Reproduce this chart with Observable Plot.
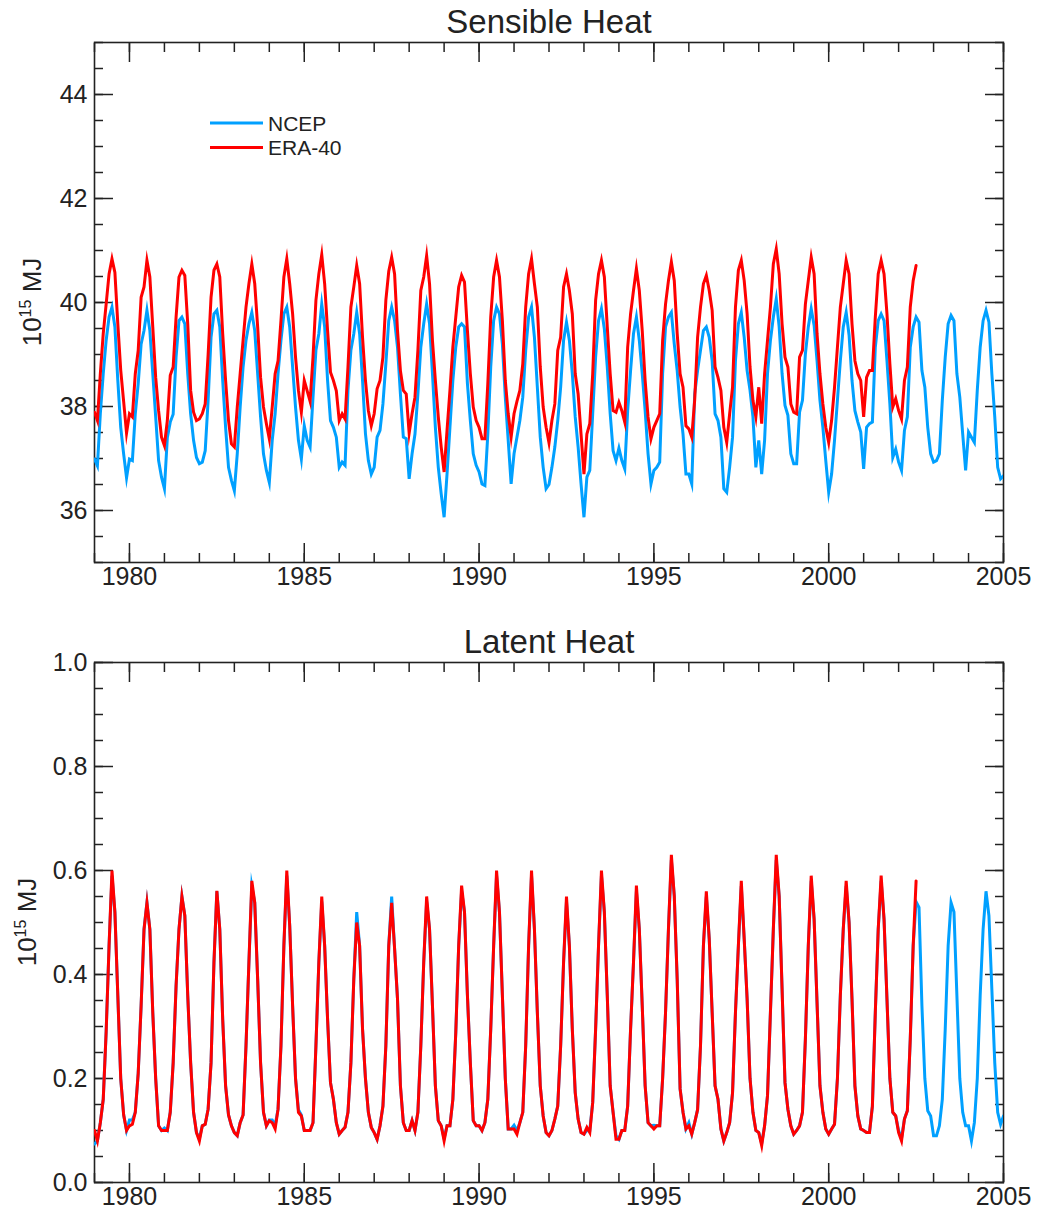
<!DOCTYPE html>
<html>
<head>
<meta charset="utf-8">
<script src="https://cdn.jsdelivr.net/npm/d3@7"></script>
<script src="https://cdn.jsdelivr.net/npm/@observablehq/plot@0.6"></script>
<style>
  html, body { margin: 0; padding: 0; background: #fff; }
  #chart { width: 1038px; }
  #chart svg { display: block; }
</style>
</head>
<body>
<div id="chart"></div>
<script>
// ---- Data (monthly, starting January 1979) ----
const startYear = 1979;
const seriesNames = ["NCEP", "ERA-40"];
const seriesColors = ["#00A0FF", "#FF0000"];

const ncepSensible = [
  36.99, 36.86, 37.86, 38.63, 39.27, 39.72, 39.91, 39.53, 38.50, 37.60, 37.09, 36.63,
  36.99, 36.96, 37.86, 38.44, 39.20, 39.46, 39.85, 39.46, 38.63, 37.80, 36.96, 36.64,
  36.42, 37.40, 37.70, 37.85, 38.95, 39.65, 39.72, 39.59, 38.63, 37.86, 37.35, 37.02,
  36.90, 36.93, 37.15, 38.12, 39.33, 39.78, 39.85, 39.53, 38.50, 37.60, 36.83, 36.58,
  36.38, 37.09, 37.99, 38.76, 39.27, 39.59, 39.81, 39.46, 38.63, 37.80, 37.09, 36.77,
  36.54, 37.35, 37.86, 38.63, 39.27, 39.78, 39.91, 39.53, 38.76, 37.99, 37.35, 36.99,
  37.63, 37.35, 37.22, 38.18, 39.08, 39.40, 39.97, 39.53, 38.50, 37.73, 37.60, 37.41,
  36.83, 36.93, 36.87, 38.31, 39.08, 39.40, 39.81, 39.40, 38.50, 37.48, 36.96, 36.70,
  36.83, 37.41, 37.54, 38.05, 38.82, 39.65, 39.91, 39.65, 39.14, 38.24, 37.41, 37.38,
  36.61, 37.09, 37.47, 38.24, 39.14, 39.59, 39.97, 39.59, 38.63, 37.60, 36.83, 36.32,
  35.87, 36.70, 37.60, 38.50, 39.14, 39.53, 39.59, 39.53, 38.44, 37.73, 37.09, 36.87,
  36.74, 36.51, 36.48, 37.47, 38.76, 39.65, 39.91, 39.78, 39.20, 38.18, 37.35, 36.51,
  37.09, 37.41, 37.73, 38.18, 39.08, 39.72, 39.91, 39.33, 38.37, 37.41, 36.83, 36.42,
  36.50, 36.83, 37.22, 37.73, 38.37, 39.27, 39.62, 39.27, 38.63, 37.80, 37.22, 36.51,
  35.87, 36.64, 36.77, 37.86, 38.95, 39.65, 39.88, 39.49, 38.76, 37.86, 37.15, 36.96,
  37.20, 36.96, 36.80, 37.92, 38.69, 39.40, 39.72, 39.27, 38.63, 37.92, 37.09, 36.51,
  36.77, 36.83, 36.93, 38.63, 39.53, 39.72, 39.81, 39.20, 38.69, 37.99, 37.47, 36.70,
  36.70, 36.51, 38.24, 38.69, 39.08, 39.46, 39.53, 39.33, 38.88, 37.86, 37.73, 37.41,
  36.42, 36.35, 36.83, 37.41, 38.88, 39.59, 39.81, 39.33, 38.69, 38.31, 37.80, 36.83,
  37.35, 36.70, 37.35, 38.63, 39.27, 39.72, 40.07, 39.53, 38.63, 38.02, 37.83, 37.09,
  36.90, 36.90, 37.89, 38.12, 39.01, 39.53, 39.88, 39.56, 38.88, 38.12, 37.60, 36.96,
  36.35, 36.70, 37.35, 38.12, 38.88, 39.53, 39.81, 39.37, 38.50, 37.92, 37.70, 37.51,
  36.80, 37.60, 37.67, 37.70, 39.14, 39.65, 39.78, 39.65, 38.88, 38.05, 37.02, 37.18,
  36.93, 36.77, 37.54, 37.80, 39.14, 39.53, 39.72, 39.62, 38.69, 38.37, 37.60, 37.09,
  36.93, 36.96, 37.09, 38.12, 38.95, 39.59, 39.75, 39.65, 38.63, 38.18, 37.47, 36.77,
  37.51, 37.41, 37.31, 38.31, 39.14, 39.65, 39.85, 39.62, 38.63, 37.80, 36.83, 36.61,
  36.67
];

const eraSensible = [
  37.89, 37.73, 38.63, 39.40, 39.97, 40.55, 40.84, 40.58, 39.59, 38.70, 38.10, 37.49,
  37.86, 37.80, 38.63, 39.08, 40.10, 40.30, 40.81, 40.49, 39.53, 38.56, 37.92, 37.41,
  37.25, 37.73, 38.60, 38.76, 39.72, 40.49, 40.62, 40.52, 39.59, 38.31, 37.89, 37.73,
  37.76, 37.86, 38.05, 39.00, 40.10, 40.62, 40.74, 40.49, 39.40, 38.50, 37.73, 37.28,
  37.22, 37.99, 38.63, 39.27, 39.91, 40.36, 40.74, 40.36, 39.53, 38.56, 37.99, 37.67,
  37.38, 37.99, 38.63, 38.88, 39.65, 40.49, 40.84, 40.36, 39.78, 38.95, 38.31, 37.89,
  38.50, 38.30, 38.10, 38.95, 40.04, 40.55, 40.92, 40.36, 39.46, 38.66, 38.50, 38.30,
  37.73, 37.86, 37.76, 38.76, 39.91, 40.30, 40.71, 40.36, 39.33, 38.50, 37.92, 37.63,
  37.86, 38.34, 38.50, 38.95, 40.04, 40.60, 40.87, 40.55, 39.46, 38.69, 38.31, 38.24,
  37.49, 37.86, 38.18, 39.08, 40.23, 40.49, 40.90, 40.36, 39.27, 38.50, 37.80, 37.22,
  36.74, 37.54, 38.31, 39.14, 39.72, 40.30, 40.52, 40.39, 39.46, 38.63, 37.99, 37.73,
  37.60, 37.38, 37.38, 38.44, 39.72, 40.49, 40.81, 40.49, 39.65, 38.50, 37.86, 37.41,
  37.86, 38.10, 38.31, 38.82, 39.91, 40.55, 40.84, 40.36, 39.91, 38.76, 37.99, 37.60,
  37.30, 37.73, 38.05, 39.08, 39.33, 40.30, 40.55, 40.23, 39.78, 38.63, 38.24, 37.47,
  36.70, 37.47, 37.67, 38.63, 40.04, 40.55, 40.81, 40.49, 39.53, 38.63, 37.92, 37.89,
  38.08, 37.92, 37.70, 39.14, 39.78, 40.23, 40.65, 40.23, 39.46, 38.50, 37.80, 37.38,
  37.60, 37.73, 37.86, 39.27, 39.97, 40.42, 40.78, 40.42, 39.40, 38.63, 38.37, 37.63,
  37.57, 37.41, 38.12, 39.33, 39.91, 40.36, 40.52, 40.23, 39.85, 38.76, 38.56, 38.31,
  37.60, 37.31, 37.86, 38.37, 39.91, 40.62, 40.81, 40.42, 39.78, 38.76, 38.12, 37.80,
  38.37, 37.67, 38.63, 39.27, 39.91, 40.74, 41.03, 40.55, 39.59, 38.95, 38.76, 38.05,
  37.89, 37.86, 38.95, 39.08, 39.97, 40.42, 40.87, 40.55, 39.40, 38.63, 38.05, 37.60,
  37.31, 37.73, 38.37, 39.14, 39.91, 40.36, 40.81, 40.55, 39.59, 38.88, 38.63, 38.50,
  37.80, 38.56, 38.69, 38.69, 39.72, 40.55, 40.81, 40.55, 39.78, 38.82, 37.99, 38.15,
  37.92, 37.76, 38.50, 38.76, 39.91, 40.42, 40.71
];

const ncepLatent = [
  0.074, 0.080, 0.115, 0.160, 0.290, 0.455, 0.590, 0.520, 0.360, 0.200, 0.130, 0.100,
  0.120, 0.120, 0.135, 0.210, 0.340, 0.487, 0.538, 0.487, 0.327, 0.200, 0.109, 0.100,
  0.105, 0.100, 0.135, 0.230, 0.378, 0.487, 0.550, 0.513, 0.360, 0.230, 0.135, 0.096,
  0.085, 0.109, 0.112, 0.141, 0.230, 0.423, 0.560, 0.487, 0.314, 0.186, 0.130, 0.109,
  0.096, 0.090, 0.115, 0.130, 0.263, 0.423, 0.570, 0.538, 0.391, 0.230, 0.135, 0.109,
  0.120, 0.120, 0.110, 0.141, 0.263, 0.455, 0.590, 0.494, 0.340, 0.200, 0.140, 0.130,
  0.100, 0.100, 0.100, 0.115, 0.263, 0.423, 0.540, 0.455, 0.314, 0.192, 0.160, 0.115,
  0.093, 0.100, 0.106, 0.135, 0.230, 0.391, 0.520, 0.455, 0.295, 0.200, 0.135, 0.106,
  0.096, 0.083, 0.109, 0.147, 0.263, 0.455, 0.550, 0.450, 0.353, 0.186, 0.115, 0.100,
  0.100, 0.119, 0.100, 0.135, 0.263, 0.423, 0.540, 0.487, 0.340, 0.186, 0.119, 0.109,
  0.085, 0.109, 0.109, 0.160, 0.288, 0.455, 0.560, 0.520, 0.360, 0.230, 0.119, 0.109,
  0.109, 0.100, 0.115, 0.160, 0.295, 0.455, 0.590, 0.520, 0.360, 0.200, 0.103, 0.103,
  0.110, 0.100, 0.115, 0.135, 0.263, 0.455, 0.590, 0.487, 0.327, 0.186, 0.128, 0.096,
  0.090, 0.100, 0.122, 0.147, 0.263, 0.423, 0.540, 0.455, 0.295, 0.173, 0.122, 0.096,
  0.093, 0.100, 0.100, 0.154, 0.295, 0.455, 0.590, 0.520, 0.360, 0.186, 0.135, 0.090,
  0.083, 0.100, 0.100, 0.147, 0.295, 0.423, 0.560, 0.487, 0.340, 0.186, 0.115, 0.109,
  0.110, 0.109, 0.109, 0.200, 0.327, 0.487, 0.620, 0.551, 0.391, 0.180, 0.135, 0.103,
  0.115, 0.093, 0.115, 0.140, 0.263, 0.455, 0.550, 0.468, 0.327, 0.186, 0.160, 0.103,
  0.080, 0.096, 0.115, 0.173, 0.327, 0.455, 0.570, 0.468, 0.353, 0.200, 0.135, 0.100,
  0.096, 0.075, 0.109, 0.167, 0.327, 0.487, 0.620, 0.551, 0.372, 0.192, 0.141, 0.109,
  0.093, 0.100, 0.109, 0.135, 0.276, 0.455, 0.580, 0.506, 0.346, 0.186, 0.135, 0.103,
  0.093, 0.103, 0.112, 0.200, 0.360, 0.487, 0.570, 0.500, 0.353, 0.186, 0.128, 0.103,
  0.100, 0.096, 0.096, 0.147, 0.327, 0.487, 0.580, 0.506, 0.353, 0.200, 0.135, 0.128,
  0.100, 0.085, 0.122, 0.138, 0.276, 0.455, 0.540, 0.529, 0.340, 0.200, 0.138, 0.128,
  0.090, 0.090, 0.109, 0.160, 0.295, 0.455, 0.538, 0.520, 0.360, 0.200, 0.135, 0.109,
  0.109, 0.080, 0.115, 0.200, 0.360, 0.487, 0.560, 0.513, 0.372, 0.230, 0.135, 0.112,
  0.128
];

const eraLatent = [
  0.100, 0.080, 0.115, 0.160, 0.290, 0.455, 0.600, 0.520, 0.360, 0.200, 0.130, 0.100,
  0.109, 0.112, 0.135, 0.210, 0.340, 0.487, 0.538, 0.487, 0.327, 0.200, 0.109, 0.100,
  0.100, 0.100, 0.135, 0.230, 0.378, 0.487, 0.550, 0.513, 0.360, 0.230, 0.135, 0.096,
  0.080, 0.109, 0.112, 0.141, 0.230, 0.423, 0.561, 0.487, 0.314, 0.186, 0.130, 0.109,
  0.096, 0.090, 0.115, 0.130, 0.263, 0.423, 0.580, 0.538, 0.391, 0.230, 0.135, 0.109,
  0.119, 0.115, 0.103, 0.141, 0.263, 0.455, 0.600, 0.494, 0.340, 0.200, 0.135, 0.128,
  0.100, 0.100, 0.100, 0.115, 0.263, 0.423, 0.550, 0.455, 0.314, 0.192, 0.160, 0.115,
  0.093, 0.100, 0.106, 0.135, 0.230, 0.391, 0.500, 0.455, 0.295, 0.200, 0.135, 0.106,
  0.096, 0.083, 0.109, 0.147, 0.263, 0.455, 0.538, 0.450, 0.353, 0.186, 0.115, 0.100,
  0.100, 0.119, 0.100, 0.135, 0.263, 0.423, 0.550, 0.487, 0.340, 0.186, 0.119, 0.109,
  0.080, 0.109, 0.109, 0.160, 0.288, 0.455, 0.571, 0.520, 0.360, 0.230, 0.119, 0.109,
  0.109, 0.100, 0.115, 0.160, 0.295, 0.455, 0.600, 0.520, 0.360, 0.200, 0.103, 0.103,
  0.103, 0.093, 0.115, 0.135, 0.263, 0.455, 0.600, 0.487, 0.327, 0.186, 0.128, 0.096,
  0.090, 0.100, 0.122, 0.147, 0.263, 0.423, 0.550, 0.455, 0.295, 0.173, 0.122, 0.096,
  0.093, 0.106, 0.096, 0.154, 0.295, 0.455, 0.600, 0.520, 0.360, 0.186, 0.135, 0.083,
  0.083, 0.100, 0.100, 0.147, 0.295, 0.423, 0.571, 0.487, 0.340, 0.186, 0.115, 0.109,
  0.103, 0.109, 0.109, 0.200, 0.327, 0.487, 0.630, 0.551, 0.391, 0.180, 0.135, 0.103,
  0.109, 0.093, 0.115, 0.140, 0.263, 0.455, 0.560, 0.468, 0.327, 0.186, 0.160, 0.103,
  0.080, 0.096, 0.115, 0.173, 0.327, 0.455, 0.580, 0.468, 0.353, 0.200, 0.135, 0.100,
  0.096, 0.071, 0.109, 0.167, 0.327, 0.487, 0.630, 0.551, 0.372, 0.192, 0.141, 0.109,
  0.093, 0.100, 0.109, 0.135, 0.276, 0.455, 0.590, 0.506, 0.346, 0.186, 0.135, 0.103,
  0.093, 0.103, 0.112, 0.200, 0.360, 0.487, 0.580, 0.500, 0.353, 0.186, 0.128, 0.103,
  0.100, 0.096, 0.096, 0.147, 0.327, 0.487, 0.590, 0.506, 0.353, 0.200, 0.135, 0.128,
  0.096, 0.080, 0.122, 0.138, 0.276, 0.455, 0.580
];

// Axis tick values
const xDomain = [1979, 2005];
const xMajorTicks = [1980, 1985, 1990, 1995, 2000, 2005];
const xMinorTicks = d3.range(1979, 2006);
const sensibleDomain = [35, 45];
const sensibleMajorTicks = [36, 38, 40, 42, 44];
const sensibleMinorTicks = d3.range(35, 45.01, 0.5);
const latentDomain = [0, 1];
const latentMajorTicks = [0, 0.2, 0.4, 0.6, 0.8, 1.0];
const latentMinorTicks = d3.range(0, 1.001, 0.05);

const titles = ["Sensible Heat", "Latent Heat"];
// -------------------------------------------------

const FONT = "'Liberation Sans', Arial, Helvetica, sans-serif";
const toPoints = (arr) => arr.map((v, i) => ({t: startYear + i / 12, v}));

function panel({ncep, era, yDomain, yMajor, yMinor, yFormat, title, height, marginTop, marginBottom, legend, labelX}) {
  const ink = "#222";
  const noLabel = () => "";
  const plot = Plot.plot({
    width: 1038,
    height,
    marginTop,
    marginBottom,
    marginLeft: 94,
    marginRight: 35,
    x: {domain: xDomain},
    y: {domain: yDomain},
    style: {fontFamily: FONT, fontSize: "25px", color: ink, background: "#fff", overflow: "visible"},
    marks: [
      Plot.axisY({anchor: "left", ticks: yMajor, tickSize: -19, tickPadding: 26, tickFormat: yFormat, label: null, strokeWidth: 1.5}),
      Plot.axisY({anchor: "left", ticks: yMinor, tickSize: -9, tickFormat: noLabel, label: null, strokeWidth: 1.5}),
      Plot.axisY({anchor: "right", ticks: yMajor, tickSize: -19, tickFormat: noLabel, label: null, strokeWidth: 1.5}),
      Plot.axisY({anchor: "right", ticks: yMinor, tickSize: -9, tickFormat: noLabel, label: null, strokeWidth: 1.5}),
      Plot.axisX({anchor: "bottom", ticks: xMajorTicks, tickSize: -19, tickPadding: 24, tickFormat: d3.format("d"), label: null, strokeWidth: 1.5}),
      Plot.axisX({anchor: "bottom", ticks: xMinorTicks, tickSize: -9, tickFormat: noLabel, label: null, strokeWidth: 1.5}),
      Plot.axisX({anchor: "top", ticks: xMajorTicks, tickSize: -19, tickFormat: noLabel, label: null, strokeWidth: 1.5}),
      Plot.axisX({anchor: "top", ticks: xMinorTicks, tickSize: -9, tickFormat: noLabel, label: null, strokeWidth: 1.5}),
      Plot.frame({stroke: ink, strokeWidth: 1.6}),
      Plot.line(toPoints(ncep), {x: "t", y: "v", stroke: seriesColors[0], strokeWidth: 3, strokeLinejoin: "miter", strokeMiterlimit: 10, clip: true}),
      Plot.line(toPoints(era), {x: "t", y: "v", stroke: seriesColors[1], strokeWidth: 3, strokeLinejoin: "miter", strokeMiterlimit: 10, clip: true}),
      Plot.text([title], {text: d => d, frameAnchor: "top", lineAnchor: "middle", dy: -20, fontSize: 33, fill: ink})
    ]
  });

  const svg = d3.select(plot);
  const yr = plot.scale("y").range;
  const yMid = (yr[0] + yr[1]) / 2;
  const lab = svg.append("text")
    .attr("transform", `translate(${labelX},${yMid}) rotate(-90)`)
    .attr("text-anchor", "middle")
    .attr("font-family", FONT)
    .attr("font-size", 26)
    .attr("fill", ink);
  lab.append("tspan").text("10");
  lab.append("tspan").attr("font-size", 16).attr("dy", -10).text("15");
  lab.append("tspan").attr("dy", 10).text(" MJ");

  if (legend) {
    const g = svg.append("g").attr("font-family", FONT).attr("font-size", 21).attr("fill", ink);
    seriesNames.forEach((name, i) => {
      const y = 123 + i * 24.5;
      g.append("line").attr("x1", 210).attr("x2", 263).attr("y1", y).attr("y2", y)
        .attr("stroke", seriesColors[i]).attr("stroke-width", 3);
      g.append("text").attr("x", 268).attr("y", y).attr("dy", "0.36em")
        .attr("text-anchor", "start").text(name);
    });
  }
  return plot;
}

const chart = document.getElementById("chart");
chart.append(panel({
  ncep: ncepSensible, era: eraSensible,
  yDomain: sensibleDomain, yMajor: sensibleMajorTicks, yMinor: sensibleMinorTicks,
  yFormat: d3.format("d"), title: titles[0],
  height: 605, marginTop: 42, marginBottom: 43, legend: true, labelX: 41
}));
chart.append(panel({
  ncep: ncepLatent, era: eraLatent,
  yDomain: latentDomain, yMajor: latentMajorTicks, yMinor: latentMinorTicks,
  yFormat: d3.format(".1f"), title: titles[1],
  height: 604, marginTop: 57, marginBottom: 27, legend: false, labelX: 36
}));
</script>
</body>
</html>
